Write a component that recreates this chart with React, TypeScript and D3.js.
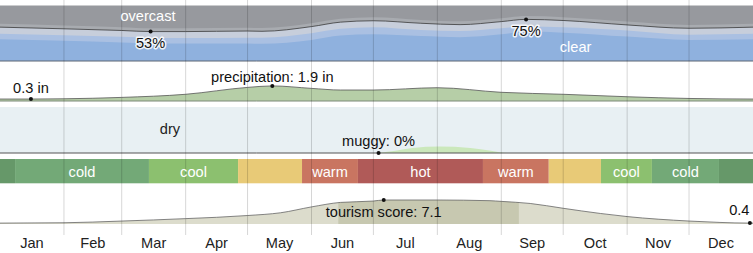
import React, { useEffect } from "react";
import * as d3 from "d3";

const W = 753;
const H = 253;

// ---- months ----
const monthNames = ["Jan", "Feb", "Mar", "Apr", "May", "Jun", "Jul", "Aug", "Sep", "Oct", "Nov", "Dec"];
const monthStartDays = [0, 31, 59, 90, 120, 151, 181, 212, 243, 273, 304, 334, 365];

// ---- cloud cover (cumulative % of time, from clear upward) ----
const cloudDays = [0, 31, 59, 73, 90, 120, 127, 151, 165, 181, 204, 223, 243, 255, 273, 304, 334, 365];
const clearPct = [39, 36.5, 33.5, 32, 31.5, 31.5, 31, 38, 46, 48, 45, 43, 48, 53, 51, 44, 38, 39];
const mostlyClearPct = [49, 46.5, 43.5, 42, 41.5, 42, 42, 50, 58, 61, 56, 54, 59, 62, 61, 55, 47.5, 49];
const partlyCloudyPct = [61, 58, 55, 53, 53, 54, 53.5, 62, 70, 72.5, 68, 65.5, 71, 75, 73, 65, 59, 61];
const mostlyCloudyPct = [67, 64, 61, 59, 59, 60, 59.5, 68, 76, 79, 74, 71.5, 77, 81, 79, 71, 65, 67];

// ---- precipitation (inches, 31-day sliding) ----
const precipDays = [0, 15, 31, 59, 90, 120, 132, 151, 165, 181, 212, 243, 273, 304, 334, 365];
const precipInches = [0.3, 0.3, 0.33, 0.5, 0.88, 1.72, 1.9, 1.6, 1.4, 1.4, 1.68, 1.12, 0.88, 0.58, 0.37, 0.3];

// ---- muggy (% of time) ----
const muggyDays = [0, 181, 190, 200, 213, 228, 238, 246, 365];
const muggyPct = [0, 0, 4, 11, 14, 11, 5, 0, 0];

// ---- temperature bands ----
const bandStartDays = [0, 7.3, 72.2, 115.4, 146.4, 173.5, 234.1, 266, 291.3, 316, 348.5];
const bandEndDays = [7.3, 72.2, 115.4, 146.4, 173.5, 234.1, 266, 291.3, 316, 348.5, 365];
const bandKinds = ["frigid", "cold", "cool", "comfortable", "warm", "hot", "warm", "comfortable", "cool", "cold", "frigid"];
const bandLabels = ["", "cold", "cool", "", "warm", "hot", "warm", "", "cool", "cold", ""];
const bandColors: Record<string, string> = {
  frigid: "#669869",
  cold: "#73a977",
  cool: "#8cc06f",
  comfortable: "#e8ca77",
  warm: "#c97561",
  hot: "#b05a58",
};

// ---- tourism score ----
const tourismDays = [0, 31, 59, 90, 120, 136, 151, 165, 181, 186, 212, 237.5, 243, 257, 273, 291, 304, 334, 349, 363.5, 365];
const tourismScore = [0.4, 0.5, 1.0, 1.7, 2.6, 3.4, 5.1, 6.4, 6.8, 7.1, 7.1, 6.9, 6.7, 6.1, 4.7, 3.2, 2.3, 1.0, 0.6, 0.4, 0.4];
const bestStartDay = 164;
const bestEndDay = 251.5;

const FONT = "'Liberation Sans', Arial, Helvetica, sans-serif";
const FS = 14.6;

export default function App() {
  useEffect(() => {
    document.body.style.margin = "0";
  }, []);

  const x = d3.scaleLinear().domain([0, 365]).range([0, W]);

  // cloud
  const yC = d3.scaleLinear().domain([0, 100]).range([61, 5.5]);
  const cloudArea = (vals: number[]) =>
    d3
      .area<number>()
      .x((_, i) => x(cloudDays[i]))
      .y0(61)
      .y1((d) => yC(d))
      .curve(d3.curveMonotoneX)(vals) as string;
  const cloudLine = d3
    .line<number>()
    .x((_, i) => x(cloudDays[i]))
    .y((d) => yC(d))
    .curve(d3.curveMonotoneX)(partlyCloudyPct) as string;

  // precip
  const yP = d3.scaleLinear().domain([0, 1]).range([101.5, 93.3]);
  const precipArea = d3
    .area<number>()
    .x((_, i) => x(precipDays[i]))
    .y0(101)
    .y1((d) => yP(d))
    .curve(d3.curveMonotoneX)(precipInches) as string;
  const precipLine = d3
    .line<number>()
    .x((_, i) => x(precipDays[i]))
    .y((d) => yP(d))
    .curve(d3.curveMonotoneX)(precipInches) as string;
  const pMinIdx = 1;
  const pMaxIdx = precipInches.indexOf(d3.max(precipInches) as number);

  // muggy
  const yH = d3.scaleLinear().domain([0, 100]).range([153, 107]);
  const muggyArea = d3
    .area<number>()
    .x((_, i) => x(muggyDays[i]))
    .y0(153)
    .y1((d) => yH(d))
    .curve(d3.curveMonotoneX)(muggyPct) as string;

  // tourism
  const yT = d3.scaleLinear().domain([0, 10]).range([224.5, 190]);
  const tourismArea = d3
    .area<number>()
    .x((_, i) => x(tourismDays[i]))
    .y0(224)
    .y1((d) => yT(d))
    .curve(d3.curveMonotoneX)(tourismScore) as string;
  const tourismLine = d3
    .line<number>()
    .x((_, i) => x(tourismDays[i]))
    .y((d) => yT(d))
    .curve(d3.curveMonotoneX)(tourismScore) as string;
  const tMaxIdx = tourismScore.indexOf(d3.max(tourismScore) as number);
  const tEndIdx = tourismDays.length - 2;

  const halo = {
    paintOrder: "stroke",
    stroke: "white",
    strokeWidth: 3,
    strokeOpacity: 0.85,
    strokeLinejoin: "round",
  } as React.CSSProperties;

  return (
    <svg
      width={W}
      height={H}
      style={{ position: "absolute", left: 0, top: 0, display: "block", fontFamily: FONT }}
    >
      <defs>
        <clipPath id="bestClip">
          <rect x={x(bestStartDay)} y={180} width={x(bestEndDay) - x(bestStartDay)} height={50} />
        </clipPath>
      </defs>

      {/* cloud panel */}
      <rect x={0} y={5.5} width={W} height={61 - 5.5} fill="#97999e" />
      <path d={cloudArea(mostlyCloudyPct)} fill="#a8abb0" />
      <path d={cloudArea(partlyCloudyPct)} fill="#c7cedb" />
      <path d={cloudArea(mostlyClearPct)} fill="#aac0e2" />
      <path d={cloudArea(clearPct)} fill="#8fb1de" />
      <path d={cloudLine} fill="none" stroke="#3a3a3a" strokeWidth={0.8} />
      <line x1={0} x2={W} y1={61} y2={61} stroke="#5d6675" strokeWidth={1} />

      {/* precipitation */}
      <path d={precipArea} fill="#b6cea7" />
      <path d={precipLine} fill="none" stroke="#555" strokeWidth={0.8} />
      <line x1={0} x2={W} y1={101} y2={101} stroke="#7d8a78" strokeWidth={1} />

      {/* humidity */}
      <rect x={0} y={107} width={W} height={153 - 107} fill="#e8f0f3" />
      <path d={muggyArea} fill="#cbe8bb" />
      <line x1={0} x2={W} y1={153} y2={153} stroke="#555" strokeWidth={1} />

      {/* temperature bands */}
      {bandKinds.map((k, i) => (
        <rect
          key={"b" + i}
          x={x(bandStartDays[i])}
          y={159}
          width={x(bandEndDays[i]) - x(bandStartDays[i])}
          height={183.3 - 159}
          fill={bandColors[k]}
        />
      ))}

      {/* tourism */}
      <path d={tourismArea} fill="#dcdccc" />
      <path d={tourismArea} fill="#c7c8b0" clipPath="url(#bestClip)" />
      <path d={tourismLine} fill="none" stroke="#666" strokeWidth={0.8} />

      {/* month gridlines */}
      {monthStartDays.slice(1, 12).map((d) => (
        <line key={"g" + d} x1={x(d)} x2={x(d)} y1={0} y2={235} stroke="#000" strokeOpacity={0.16} strokeWidth={1} />
      ))}

      {/* band labels */}
      {bandLabels.map((l, i) =>
        l ? (
          <text
            key={"bl" + i}
            x={(x(bandStartDays[i]) + x(bandEndDays[i])) / 2}
            y={176.5}
            textAnchor="middle"
            fontSize={FS}
            fill="white"
          >
            {l}
          </text>
        ) : null
      )}

      {/* cloud labels */}
      <text x={148} y={20.5} textAnchor="middle" fontSize={FS} fill="white">
        overcast
      </text>
      <text x={x(279)} y={52} textAnchor="middle" fontSize={FS} fill="white">
        clear
      </text>
      <circle cx={x(cloudDays[3])} cy={yC(partlyCloudyPct[3])} r={2} fill="#111" />
      <text x={x(cloudDays[3])} y={yC(partlyCloudyPct[3]) + 16.5} textAnchor="middle" fontSize={FS} fill="#111" style={halo}>
        53%
      </text>
      <circle cx={x(cloudDays[13])} cy={yC(partlyCloudyPct[13])} r={2} fill="#111" />
      <text x={x(cloudDays[13])} y={yC(partlyCloudyPct[13]) + 16.5} textAnchor="middle" fontSize={FS} fill="#111" style={halo}>
        75%
      </text>

      {/* precip labels */}
      <circle cx={x(precipDays[pMinIdx])} cy={yP(precipInches[pMinIdx])} r={2} fill="#111" />
      <text x={x(precipDays[pMinIdx])} y={92.5} textAnchor="middle" fontSize={FS} fill="#111">
        0.3 in
      </text>
      <circle cx={x(precipDays[pMaxIdx])} cy={yP(precipInches[pMaxIdx])} r={2} fill="#111" />
      <text x={x(precipDays[pMaxIdx])} y={82} textAnchor="middle" fontSize={FS} fill="#111">
        precipitation: 1.9 in
      </text>

      {/* humidity labels */}
      <text x={170} y={134} textAnchor="middle" fontSize={FS} fill="#222">
        dry
      </text>
      <circle cx={x(183.5)} cy={153} r={2} fill="#111" />
      <text x={x(183.5)} y={146} textAnchor="middle" fontSize={FS} fill="#111">
        muggy: 0%
      </text>

      {/* tourism labels */}
      <circle cx={x(tourismDays[tMaxIdx])} cy={yT(tourismScore[tMaxIdx])} r={2} fill="#111" />
      <text x={x(tourismDays[tMaxIdx])} y={216.5} textAnchor="middle" fontSize={FS} fill="#111">
        tourism score: 7.1
      </text>
      <circle cx={x(tourismDays[tEndIdx])} cy={yT(tourismScore[tEndIdx])} r={2} fill="#111" />
      <text x={749.5} y={214.5} textAnchor="end" fontSize={FS} fill="#111">
        0.4
      </text>

      {/* month labels */}
      {monthNames.map((m, i) => (
        <text
          key={m}
          x={(x(monthStartDays[i]) + x(monthStartDays[i + 1])) / 2}
          y={247.5}
          textAnchor="middle"
          fontSize={FS}
          fill="#222"
        >
          {m}
        </text>
      ))}
    </svg>
  );
}
